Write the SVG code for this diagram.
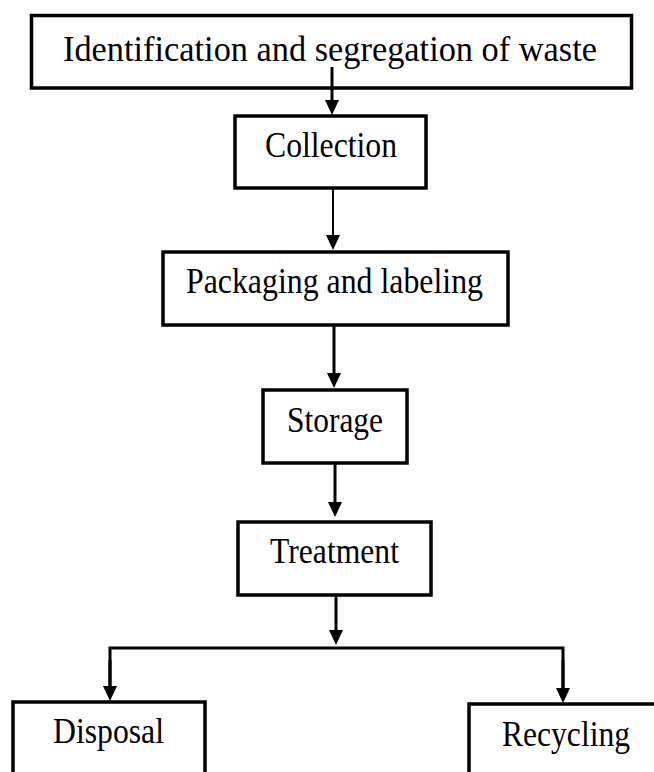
<svg xmlns="http://www.w3.org/2000/svg" width="654" height="772" viewBox="0 0 654 772">
  <style>
    .box { fill: #fff; stroke: #000; stroke-width: 3.5; }
    .lbl { font-family: "Liberation Serif", "Times New Roman", serif; font-size: 35px; fill: #000; text-anchor: middle; }
    .big { font-size: 36px; }
    .conn { stroke: #000; stroke-width: 3; fill: none; }
    .thin { stroke-width: 2; }
  </style>
  <defs>
    <marker id="ah" markerUnits="userSpaceOnUse" markerWidth="15" markerHeight="14" refX="9" refY="7" orient="auto">
      <path d="M0,0 L15,7 L0,14 Z" fill="#000"/>
    </marker>
  </defs>
  <rect width="654" height="772" fill="#fff"/>

  <g id="n-identification">
    <rect class="box" x="31.5" y="15.5" width="600" height="72.5"/>
    <text class="lbl big" x="330" y="61" textLength="534" lengthAdjust="spacingAndGlyphs">Identification and segregation of waste</text>
  </g>
  <g id="n-collection">
    <rect class="box" x="235" y="116" width="191" height="72"/>
    <text class="lbl" x="331" y="157" textLength="132" lengthAdjust="spacingAndGlyphs">Collection</text>
  </g>
  <g id="n-packaging">
    <rect class="box" x="163" y="252" width="345" height="73"/>
    <text class="lbl" x="334.5" y="293" textLength="297" lengthAdjust="spacingAndGlyphs">Packaging and labeling</text>
  </g>
  <g id="n-storage">
    <rect class="box" x="263" y="390" width="144" height="73"/>
    <text class="lbl" x="335" y="432" textLength="96" lengthAdjust="spacingAndGlyphs">Storage</text>
  </g>
  <g id="n-treatment">
    <rect class="box" x="238" y="522" width="193" height="73"/>
    <text class="lbl" x="334.5" y="563" textLength="129" lengthAdjust="spacingAndGlyphs">Treatment</text>
  </g>
  <g id="n-disposal">
    <rect class="box" x="13" y="702" width="192" height="90"/>
    <text class="lbl" x="108.5" y="743" textLength="111" lengthAdjust="spacingAndGlyphs">Disposal</text>
  </g>
  <g id="n-recycling">
    <rect class="box" x="469" y="704" width="200" height="90"/>
    <text class="lbl" x="566" y="746" textLength="128" lengthAdjust="spacingAndGlyphs">Recycling</text>
  </g>

  <g id="connectors">
    <line class="conn" x1="332" y1="67" x2="332" y2="109" marker-end="url(#ah)"/>
    <line class="conn thin" x1="333" y1="188" x2="333" y2="244" marker-end="url(#ah)"/>
    <line class="conn" x1="334" y1="325" x2="334" y2="382" marker-end="url(#ah)"/>
    <line class="conn" x1="335" y1="463" x2="335" y2="511" marker-end="url(#ah)"/>
    <line class="conn" x1="336" y1="595" x2="336" y2="639" marker-end="url(#ah)"/>
    <polyline class="conn" points="110,695 110,648 563,648 563,697"/>
    <line class="conn" x1="110" y1="660" x2="110" y2="695" marker-end="url(#ah)"/>
    <line class="conn" x1="563" y1="660" x2="563" y2="697" marker-end="url(#ah)"/>
  </g>
</svg>
